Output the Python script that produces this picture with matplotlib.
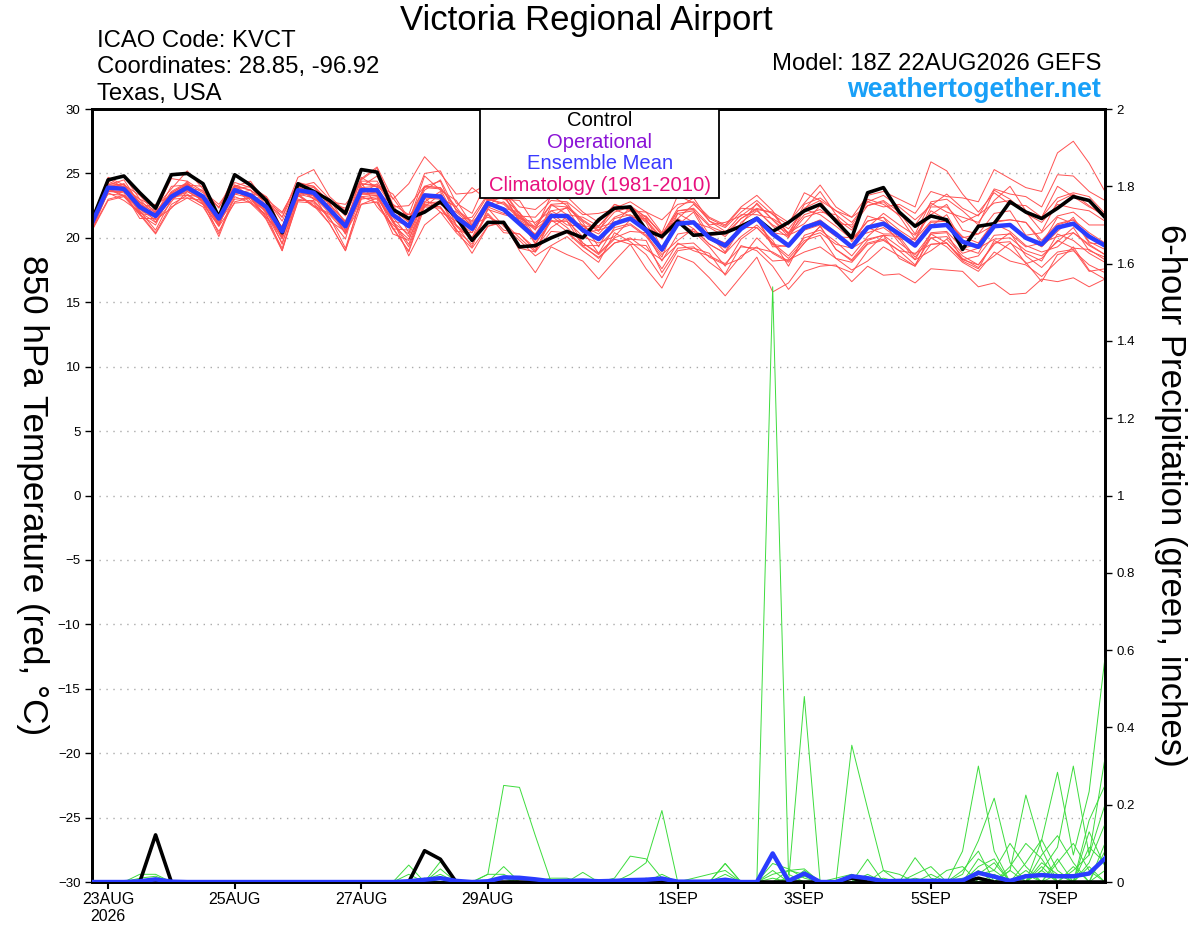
import numpy as np
import matplotlib
matplotlib.use("Agg")
import matplotlib.pyplot as plt
from matplotlib.patches import Rectangle

plt.rcParams['font.family'] = ['Liberation Sans', 'DejaVu Sans']

# 6-hourly steps from 18Z 22AUG2026 to 18Z 07SEP2026 (65 steps)
tick_steps = [1, 9, 17, 25, 37, 45, 53, 61]
tick_labels = ['23AUG\n2026', '25AUG', '27AUG', '29AUG', '1SEP', '3SEP', '5SEP', '7SEP']

# 850 hPa temperature (C)
control_t = [21.4, 24.5, 24.8, 23.5, 22.3, 24.9, 25.0, 24.2, 21.6, 24.9, 24.1, 22.9, 20.4,
             24.2, 23.6, 22.9, 21.9, 25.3, 25.1, 22.2, 21.5, 22.0, 22.8, 21.6, 19.8, 21.2,
             21.2, 19.3, 19.4, 20.0, 20.5, 20.0, 21.4, 22.3, 22.4, 20.6, 20.1, 21.3, 20.2,
             20.3, 20.4, 20.9, 21.5, 20.5, 21.2, 22.1, 22.6, 21.3, 20.0, 23.5, 23.9, 22.0,
             20.9, 21.7, 21.4, 19.1, 20.9, 21.1, 22.8, 22.0, 21.5, 22.3, 23.2, 22.9, 21.6]
mean_t = [21.2, 23.9, 23.8, 22.4, 21.7, 23.2, 23.9, 23.2, 21.5, 23.7, 23.3, 22.4, 20.5,
          23.7, 23.5, 22.2, 20.9, 23.7, 23.7, 21.8, 20.9, 23.3, 23.2, 21.6, 20.7, 22.7,
          22.2, 21.1, 20.0, 21.7, 21.7, 20.6, 19.9, 21.1, 21.5, 20.6, 19.1, 21.1, 21.2,
          20.0, 19.4, 20.7, 21.5, 20.3, 19.4, 20.8, 21.2, 20.3, 19.3, 20.8, 21.1, 20.3,
          19.4, 20.9, 21.0, 19.7, 19.3, 20.9, 21.0, 20.0, 19.5, 20.8, 21.1, 20.1, 19.4]

members_t = [
    [21.0, 24.2, 24.1, 23.3, 21.9, 23.6, 24.3, 22.6, 21.8, 24.0, 24.4, 22.7, 20.8, 24.1, 23.0, 22.6,
     21.3, 24.2, 24.0, 23.1, 21.4, 23.9, 23.8, 21.4, 21.6, 23.4, 23.0, 22.9, 21.0, 22.6, 21.8, 21.6,
     20.9, 22.2, 21.7, 21.7, 20.2, 22.3, 23.1, 21.3, 20.8, 22.0, 22.9, 21.8, 21.0, 23.5, 22.9, 22.1,
     21.2, 22.8, 22.4, 22.6, 21.9, 23.6, 23.2, 23.1, 22.8, 25.3, 24.6, 23.9, 23.6, 26.6, 27.5, 25.8,
     23.6],
    [21.3, 23.7, 23.6, 22.1, 20.6, 23.0, 23.6, 22.9, 20.3, 23.4, 23.1, 22.0, 20.1, 24.0, 23.2, 21.9,
     20.6, 23.2, 23.3, 21.4, 18.6, 21.0, 22.0, 21.3, 20.4, 22.5, 23.4, 21.2, 20.3, 22.1, 22.3, 20.4,
     20.6, 22.0, 22.4, 21.6, 20.3, 21.5, 22.6, 21.5, 20.9, 22.3, 22.2, 22.0, 21.2, 22.7, 24.1, 22.4,
     21.6, 23.3, 23.6, 23.0, 22.4, 25.9, 25.2, 23.4, 22.0, 23.5, 22.6, 22.5, 21.6, 24.0, 23.2, 22.4,
     21.8],
    [20.8, 23.5, 22.9, 22.0, 21.2, 22.8, 24.4, 22.7, 20.9, 22.7, 22.8, 21.8, 19.6, 23.0, 22.8, 21.5,
     19.9, 24.3, 22.4, 21.0, 19.9, 22.5, 22.4, 20.6, 19.5, 22.3, 20.9, 19.8, 18.6, 19.4, 20.1, 19.0,
     18.1, 20.4, 19.7, 18.7, 16.9, 19.0, 19.2, 18.8, 17.1, 18.6, 19.3, 18.2, 18.3, 18.9, 19.3, 18.4,
     17.5, 18.2, 19.3, 18.6, 17.8, 20.3, 19.6, 18.3, 17.9, 19.6, 19.7, 18.0, 18.4, 19.8, 19.2, 19.1,
     18.3],
    [21.5, 24.6, 23.9, 22.5, 21.8, 24.0, 24.1, 23.3, 21.6, 23.8, 23.4, 21.9, 20.9, 23.9, 23.6, 23.0,
     21.1, 23.6, 23.5, 22.6, 20.4, 22.8, 22.6, 22.0, 21.0, 21.6, 21.1, 19.2, 18.9, 20.5, 20.4, 19.3,
     18.5, 19.6, 19.9, 19.8, 17.3, 19.2, 19.3, 18.1, 17.2, 19.4, 19.0, 17.8, 16.0, 17.4, 17.8, 17.9,
     16.6, 17.8, 17.1, 17.2, 16.5, 17.6, 17.5, 17.4, 16.2, 16.5, 15.6, 15.7, 16.8, 16.6, 16.9, 16.2,
     16.8],
    [21.4, 24.1, 24.5, 22.6, 22.0, 23.5, 24.2, 22.8, 21.9, 24.0, 23.7, 22.8, 21.9, 24.3, 24.0, 22.7,
     22.3, 24.4, 24.4, 22.4, 22.5, 24.0, 23.9, 22.4, 23.9, 22.9, 23.1, 21.9, 19.8, 22.5, 22.4, 21.2,
     19.3, 21.5, 21.8, 20.8, 20.2, 21.3, 21.2, 20.1, 19.6, 20.8, 21.5, 19.5, 19.3, 20.6, 21.0, 20.1,
     20.0, 20.4, 20.8, 19.9, 18.3, 20.4, 20.5, 19.2, 18.8, 21.1, 20.5, 19.4, 18.9, 19.3, 20.4, 19.5,
     18.7],
    [21.5, 23.4, 23.3, 21.9, 20.4, 22.6, 23.3, 22.6, 20.9, 23.9, 22.7, 21.8, 19.0, 22.9, 22.9, 21.6,
     19.2, 23.0, 23.2, 21.2, 20.3, 24.0, 24.4, 21.5, 20.9, 23.0, 22.7, 21.6, 20.6, 23.3, 22.5, 21.4,
     20.6, 21.0, 22.4, 21.4, 20.0, 22.1, 22.3, 21.0, 21.2, 21.7, 22.6, 21.4, 20.4, 21.1, 22.5, 21.5,
     20.6, 23.0, 22.6, 21.8, 21.0, 22.7, 22.0, 21.6, 21.2, 22.9, 24.0, 22.1, 21.6, 23.1, 23.5, 23.2,
     21.9],
    [21.0, 23.6, 23.5, 21.5, 21.5, 23.0, 23.1, 22.9, 21.1, 23.4, 23.7, 22.0, 19.9, 23.3, 22.4, 21.8,
     20.4, 22.6, 23.1, 21.2, 19.3, 22.6, 22.4, 20.9, 19.9, 21.8, 20.4, 20.3, 19.2, 20.8, 21.6, 19.6,
     18.7, 19.9, 19.5, 19.4, 17.6, 19.6, 19.0, 18.6, 18.0, 19.3, 19.2, 18.9, 18.2, 19.6, 20.9, 19.1,
     18.3, 19.8, 20.2, 20.1, 18.5, 20.0, 20.1, 18.8, 19.2, 19.9, 20.0, 19.0, 18.6, 19.7, 20.8, 19.0,
     18.5],
    [21.6, 23.8, 24.2, 22.8, 22.1, 24.6, 24.4, 23.6, 22.6, 24.3, 23.9, 23.0, 21.3, 24.0, 24.3, 23.0,
     21.7, 24.5, 25.4, 22.6, 21.8, 25.0, 25.2, 22.7, 21.9, 24.6, 23.6, 22.4, 22.2, 23.2, 23.2, 22.0,
     21.2, 22.6, 22.1, 22.0, 20.4, 23.3, 22.7, 21.3, 20.5, 21.0, 22.7, 21.4, 20.1, 21.6, 22.0, 21.8,
     19.7, 21.3, 21.6, 20.6, 19.8, 22.1, 21.4, 20.1, 19.6, 21.3, 21.4, 21.2, 19.8, 21.1, 21.4, 20.4,
     19.6],
    [21.1, 23.8, 23.2, 22.3, 21.6, 23.1, 24.2, 23.0, 21.3, 23.6, 23.2, 21.6, 20.3, 23.5, 23.3, 22.7,
     20.6, 23.5, 23.4, 20.7, 20.6, 23.1, 23.0, 20.5, 20.4, 22.4, 21.9, 21.7, 19.6, 21.3, 21.3, 19.4,
     19.4, 20.6, 21.0, 20.1, 18.5, 21.5, 20.7, 19.5, 18.8, 20.1, 21.0, 19.8, 17.8, 20.2, 20.6, 19.7,
     18.6, 20.1, 21.2, 19.6, 18.7, 20.3, 20.4, 18.3, 18.6, 20.2, 20.3, 19.3, 19.6, 20.1, 20.4, 19.4,
     18.7],
    [21.3, 24.0, 23.9, 23.0, 21.7, 23.3, 24.0, 23.2, 21.0, 23.8, 23.4, 22.5, 20.0, 23.8, 23.6, 22.3,
     21.0, 24.7, 23.9, 22.0, 21.8, 22.4, 23.4, 21.8, 20.9, 22.9, 23.3, 21.3, 20.2, 21.9, 21.0, 20.9,
     20.3, 21.6, 22.1, 21.2, 18.9, 21.9, 22.1, 20.9, 20.4, 21.8, 21.8, 21.5, 20.7, 22.2, 23.6, 21.8,
     20.8, 22.5, 22.9, 22.0, 20.3, 22.8, 23.0, 22.1, 21.0, 23.7, 23.0, 21.9, 21.2, 22.6, 22.3, 22.1,
     21.3],
    [20.6, 22.9, 23.2, 21.8, 20.3, 22.4, 23.1, 22.4, 20.5, 22.8, 23.1, 21.4, 19.0, 23.3, 22.5, 21.1,
     19.0, 22.6, 22.8, 20.8, 18.9, 22.4, 22.3, 20.7, 18.8, 20.9, 21.2, 20.0, 18.9, 21.7, 20.8, 19.6,
     18.8, 20.0, 20.5, 20.4, 18.2, 20.3, 20.5, 19.3, 17.8, 19.9, 20.8, 19.6, 18.6, 20.0, 20.4, 19.5,
     19.2, 19.9, 20.2, 19.3, 18.3, 19.0, 19.9, 18.6, 17.9, 19.5, 20.4, 18.6, 17.7, 18.9, 19.1, 17.4,
     17.6],
    [21.7, 24.4, 24.8, 23.0, 22.4, 23.8, 25.2, 23.8, 22.3, 24.9, 24.0, 23.2, 21.6, 24.7, 25.3, 23.2,
     22.1, 24.6, 25.5, 23.0, 24.2, 26.3, 25.0, 23.4, 23.5, 24.2, 23.6, 21.7, 21.6, 22.9, 22.8, 21.8,
     21.9, 22.2, 22.5, 21.6, 20.3, 22.1, 22.2, 20.2, 20.3, 21.5, 22.2, 20.9, 20.0, 22.2, 21.8, 20.9,
     19.9, 21.3, 21.6, 19.9, 19.9, 21.3, 21.3, 20.0, 20.3, 21.0, 21.0, 20.0, 19.3, 20.5, 21.6, 19.7,
     19.1],
    [21.2, 23.9, 23.8, 21.9, 21.7, 23.1, 23.8, 23.7, 21.4, 23.6, 23.1, 21.6, 20.2, 23.4, 23.1, 22.5,
     20.3, 23.1, 23.0, 20.3, 19.8, 23.1, 22.0, 20.4, 19.2, 20.9, 21.3, 19.0, 17.3, 19.3, 18.7, 18.2,
     16.8, 18.2, 19.5, 17.6, 16.1, 18.6, 18.1, 16.9, 15.5, 17.0, 18.5, 15.8, 16.5, 18.2, 18.0, 17.8,
     17.3, 19.0, 20.2, 18.4, 17.8, 19.5, 19.6, 18.4, 17.7, 18.6, 19.6, 18.8, 18.2, 20.3, 19.8, 18.8,
     18.1],
    [21.5, 24.7, 24.1, 22.7, 21.2, 23.5, 24.2, 23.5, 22.4, 24.1, 23.7, 22.8, 21.6, 24.1, 23.9, 22.6,
     21.2, 23.4, 24.2, 22.3, 21.3, 23.7, 24.5, 22.1, 21.2, 22.4, 22.8, 21.7, 20.7, 21.6, 22.4, 21.3,
     20.5, 22.6, 22.2, 21.3, 19.9, 21.9, 21.2, 20.8, 20.1, 21.5, 22.3, 21.9, 20.3, 21.8, 22.2, 21.3,
     20.0, 20.8, 21.9, 21.0, 20.2, 21.8, 22.6, 20.6, 20.3, 21.9, 22.1, 20.2, 20.4, 21.7, 22.0, 21.0,
     21.0],
    [21.0, 23.7, 24.2, 22.2, 21.4, 22.3, 23.6, 22.9, 21.0, 24.0, 22.9, 22.1, 20.0, 23.4, 22.5, 21.9,
     21.3, 23.4, 23.5, 21.6, 20.1, 23.2, 23.1, 22.4, 20.8, 22.7, 22.2, 21.1, 20.9, 21.8, 21.7, 20.5,
     18.8, 20.8, 21.1, 20.2, 18.7, 19.8, 20.7, 19.5, 18.8, 20.8, 20.8, 19.5, 18.4, 19.8, 20.2, 18.4,
     18.1, 19.5, 19.8, 19.0, 17.9, 20.0, 19.3, 18.1, 17.4, 18.9, 18.2, 17.9, 17.0, 18.2, 19.3, 17.5,
     16.8],
    [20.9, 24.1, 24.0, 22.0, 22.0, 23.4, 24.1, 24.0, 21.8, 24.1, 23.2, 23.0, 22.0, 24.2, 24.0, 22.8,
     22.6, 24.2, 24.1, 23.4, 21.5, 24.0, 23.9, 22.2, 21.3, 23.3, 23.6, 21.9, 20.8, 22.6, 22.7, 20.9,
     20.9, 22.3, 22.8, 22.0, 21.4, 22.6, 22.8, 21.6, 21.0, 22.4, 23.3, 22.1, 20.2, 22.6, 23.1, 22.1,
     21.6, 22.5, 22.8, 21.7, 19.9, 22.4, 22.4, 21.2, 21.8, 22.7, 22.9, 22.0, 20.5, 22.8, 23.4, 22.5,
     21.6],
    [20.7, 23.0, 23.3, 21.8, 21.0, 23.5, 23.4, 22.6, 20.1, 23.2, 22.7, 21.5, 19.2, 22.8, 22.7, 21.1,
     19.0, 23.2, 22.7, 20.7, 19.0, 22.7, 22.8, 21.0, 19.3, 22.2, 21.8, 21.5, 19.5, 21.3, 21.3, 20.1,
     19.6, 20.1, 21.4, 20.5, 18.9, 21.0, 22.0, 19.9, 19.2, 20.6, 21.5, 19.3, 19.4, 20.9, 21.4, 20.4,
     19.3, 21.7, 21.3, 20.4, 19.6, 21.2, 21.3, 19.2, 19.5, 21.2, 21.4, 21.2, 19.6, 21.0, 21.4, 19.6,
     19.5],
    [21.2, 23.8, 23.3, 22.4, 22.6, 23.3, 24.0, 23.2, 21.6, 23.8, 23.4, 23.2, 20.7, 23.2, 23.7, 22.3,
     21.1, 24.0, 24.8, 22.2, 21.2, 24.8, 23.7, 22.9, 21.0, 23.0, 22.6, 21.5, 21.2, 22.1, 21.4, 21.0,
     19.9, 21.2, 21.6, 21.5, 19.2, 21.2, 21.3, 20.2, 18.9, 21.2, 22.1, 21.0, 20.4, 22.3, 22.9, 21.1,
     21.0, 22.8, 23.3, 22.4, 21.4, 22.5, 23.4, 22.3, 21.7, 23.8, 23.4, 23.2, 22.4, 24.9, 24.8, 23.6,
     22.9],
    [20.6, 23.6, 23.6, 22.8, 21.5, 23.0, 23.7, 23.0, 21.2, 23.0, 23.1, 22.2, 19.5, 23.5, 23.3, 21.3,
     20.5, 23.4, 23.3, 21.3, 19.5, 22.8, 23.6, 21.0, 20.0, 21.9, 20.6, 20.3, 19.0, 21.4, 20.5, 19.4,
     18.4, 19.6, 20.0, 19.1, 18.3, 19.5, 19.6, 18.5, 17.9, 18.4, 20.0, 18.8, 18.1, 19.6, 20.9, 19.1,
     18.2, 19.6, 19.9, 19.0, 18.8, 19.5, 19.6, 18.2, 17.6, 19.8, 19.1, 18.1, 16.6, 18.7, 19.0, 17.9,
     17.3],
    [21.3, 24.4, 23.9, 22.5, 21.7, 23.2, 23.3, 23.2, 21.6, 23.8, 24.0, 22.5, 20.6, 23.8, 23.0, 22.3,
     20.3, 23.9, 24.0, 21.3, 21.0, 23.4, 23.3, 21.7, 20.0, 22.8, 22.3, 22.0, 20.1, 21.8, 21.8, 20.7,
     20.8, 21.2, 21.6, 20.7, 19.2, 21.2, 20.5, 20.1, 19.5, 20.8, 21.6, 20.4, 20.2, 20.8, 21.2, 20.3,
     19.3, 20.8, 20.3, 20.3, 19.4, 20.9, 21.8, 19.7, 19.3, 20.9, 21.0, 20.0, 19.5, 21.6, 21.1, 20.1,
     19.4],
]

# 6-hour precipitation (inches)
control_p = [0, 0, 0, 0, 0.122, 0, 0, 0, 0, 0, 0, 0, 0,
             0, 0, 0, 0, 0, 0, 0, 0, 0.081, 0.059, 0, 0, 0,
             0, 0, 0, 0, 0, 0, 0, 0, 0, 0, 0, 0, 0,
             0, 0, 0, 0, 0, 0, 0, 0, 0, 0.01, 0, 0, 0,
             0, 0, 0, 0, 0.01, 0, 0, 0, 0, 0, 0, 0, 0]
mean_p = [0, 0, 0, 0.002, 0.007, 0.001, 0, 0, 0, 0, 0, 0, 0,
          0, 0, 0, 0, 0, 0, 0, 0.002, 0.006, 0.01, 0.003, 0, 0.002,
          0.012, 0.011, 0.007, 0.002, 0.003, 0.004, 0.002, 0.003, 0.005, 0.006, 0.009, 0.001, 0.001,
          0.001, 0.006, 0, 0, 0.074, 0.003, 0.022, 0, 0, 0.015, 0.01, 0.002, 0.003,
          0.003, 0.003, 0.003, 0.004, 0.024, 0.014, 0.003, 0.015, 0.018, 0.015, 0.015, 0.022, 0.061]

members_p = [
    [0, 0, 0, 0.02, 0.02, 0, 0, 0, 0, 0, 0, 0, 0,
     0, 0, 0, 0, 0, 0, 0, 0, 0, 0, 0, 0, 0,
     0, 0, 0, 0, 0, 0, 0, 0, 0, 0, 0, 0, 0,
     0, 0, 0, 0, 1.54, 0.02, 0, 0, 0, 0, 0, 0, 0,
     0, 0, 0, 0.02, 0.107, 0.217, 0.05, 0, 0, 0, 0, 0, 0],
    [0, 0, 0, 0, 0, 0, 0, 0, 0, 0, 0, 0, 0,
     0, 0, 0, 0, 0, 0, 0, 0.044, 0, 0, 0, 0, 0,
     0, 0, 0, 0, 0, 0, 0, 0, 0, 0, 0, 0, 0,
     0, 0, 0, 0, 0, 0, 0.48, 0, 0, 0, 0, 0, 0,
     0, 0, 0, 0, 0, 0, 0, 0, 0.03, 0.09, 0.30, 0.07, 0.32],
    [0, 0, 0, 0, 0, 0, 0, 0, 0, 0, 0, 0, 0,
     0, 0, 0, 0, 0, 0, 0, 0, 0, 0, 0, 0, 0.02,
     0.25, 0.245, 0.12, 0, 0, 0, 0, 0, 0, 0, 0, 0, 0,
     0, 0, 0, 0, 0, 0, 0, 0, 0, 0.354, 0.19, 0.03, 0,
     0, 0, 0, 0, 0, 0, 0.03, 0.225, 0.085, 0, 0, 0, 0],
    [0, 0, 0, 0, 0, 0, 0, 0, 0, 0, 0, 0, 0,
     0, 0, 0, 0, 0, 0, 0, 0, 0, 0.053, 0, 0, 0,
     0, 0, 0, 0, 0, 0, 0, 0.01, 0.067, 0.06, 0.01, 0, 0,
     0, 0.048, 0, 0, 0, 0, 0, 0, 0, 0, 0, 0, 0,
     0, 0, 0, 0.08, 0.30, 0.08, 0, 0, 0, 0, 0, 0.13, 0.04],
    [0, 0, 0, 0, 0, 0, 0, 0, 0, 0, 0, 0, 0,
     0, 0, 0, 0, 0, 0, 0, 0, 0, 0.034, 0, 0, 0,
     0, 0, 0, 0, 0, 0, 0, 0, 0.02, 0.05, 0.185, 0, 0,
     0, 0, 0, 0, 0.048, 0.034, 0.01, 0, 0, 0, 0, 0, 0,
     0, 0, 0, 0, 0, 0, 0, 0, 0.109, 0.284, 0.07, 0.234, 0.58],
    [0, 0, 0, 0, 0, 0, 0, 0, 0, 0, 0, 0, 0,
     0, 0, 0, 0, 0, 0, 0, 0, 0, 0, 0, 0, 0,
     0.04, 0, 0, 0, 0, 0.025, 0, 0, 0, 0, 0, 0, 0,
     0, 0.048, 0, 0, 0, 0, 0, 0, 0, 0, 0.059, 0, 0,
     0.063, 0.01, 0, 0, 0, 0, 0, 0, 0.05, 0.02, 0, 0.16, 0.25],
    [0, 0, 0, 0.01, 0.015, 0, 0, 0, 0, 0, 0, 0, 0,
     0, 0, 0, 0, 0, 0, 0, 0, 0.005, 0.02, 0, 0, 0,
     0, 0, 0, 0.01, 0.01, 0, 0, 0, 0, 0, 0, 0, 0,
     0, 0, 0, 0, 0, 0.03, 0.034, 0, 0, 0, 0, 0, 0,
     0, 0, 0, 0, 0.04, 0.06, 0, 0.05, 0.11, 0.03, 0, 0, 0.08],
    [0, 0, 0, 0, 0, 0, 0, 0, 0, 0, 0, 0, 0,
     0, 0, 0, 0, 0, 0, 0, 0.02, 0, 0, 0, 0, 0,
     0, 0, 0, 0, 0, 0, 0, 0, 0, 0, 0, 0, 0.01,
     0.02, 0.03, 0, 0, 0, 0, 0, 0, 0.01, 0.02, 0, 0, 0,
     0.02, 0.04, 0, 0, 0.06, 0.03, 0.1, 0.04, 0, 0, 0, 0.05, 0.15],
    [0, 0, 0, 0, 0, 0, 0, 0, 0, 0, 0, 0, 0,
     0, 0, 0, 0, 0, 0, 0, 0, 0, 0, 0, 0, 0.02,
     0.02, 0, 0, 0, 0, 0, 0, 0, 0, 0, 0, 0, 0,
     0, 0, 0, 0, 0.02, 0.03, 0.02, 0, 0, 0, 0, 0.03, 0.02,
     0, 0, 0, 0.03, 0.08, 0, 0, 0, 0.07, 0.12, 0.05, 0, 0],
    [0, 0, 0, 0, 0, 0, 0, 0, 0, 0, 0, 0, 0,
     0, 0, 0, 0, 0, 0, 0, 0, 0, 0, 0, 0, 0,
     0, 0, 0, 0, 0, 0, 0, 0, 0, 0, 0.02, 0, 0,
     0, 0, 0, 0, 0, 0, 0.03, 0, 0, 0, 0.02, 0, 0,
     0, 0, 0.03, 0.04, 0, 0, 0.04, 0.1, 0.06, 0, 0.03, 0.07, 0.2],
    [0, 0, 0, 0, 0, 0, 0, 0, 0, 0, 0, 0, 0,
     0, 0, 0, 0, 0, 0, 0, 0, 0, 0.01, 0, 0, 0,
     0, 0.01, 0, 0, 0, 0, 0, 0, 0, 0, 0, 0, 0,
     0, 0, 0, 0, 0, 0, 0.02, 0, 0, 0, 0, 0, 0,
     0, 0, 0, 0, 0.02, 0.03, 0, 0, 0, 0.05, 0.1, 0.03, 0],
    [0, 0, 0, 0, 0, 0, 0, 0, 0, 0, 0, 0, 0,
     0, 0, 0, 0, 0, 0, 0, 0, 0, 0, 0, 0, 0,
     0.01, 0, 0, 0, 0, 0, 0, 0, 0, 0, 0, 0, 0,
     0, 0.02, 0, 0, 0, 0, 0, 0, 0, 0.02, 0, 0, 0,
     0, 0.02, 0, 0, 0, 0, 0.03, 0, 0.04, 0, 0, 0.09, 0.05],
    [0, 0, 0, 0, 0.01, 0, 0, 0, 0, 0, 0, 0, 0,
     0, 0, 0, 0, 0, 0, 0, 0, 0, 0, 0, 0, 0,
     0, 0, 0, 0, 0, 0, 0, 0, 0, 0, 0, 0, 0,
     0, 0, 0, 0, 0.01, 0, 0.015, 0, 0, 0, 0, 0, 0,
     0.01, 0, 0, 0, 0.03, 0, 0, 0.02, 0, 0.06, 0, 0, 0.03],
    [0, 0, 0, 0, 0, 0, 0, 0, 0, 0, 0, 0, 0,
     0, 0, 0, 0, 0, 0, 0, 0, 0.01, 0, 0, 0, 0,
     0, 0, 0, 0, 0, 0, 0, 0, 0, 0.01, 0, 0, 0,
     0, 0, 0, 0, 0, 0.01, 0, 0, 0, 0, 0, 0, 0,
     0, 0, 0, 0, 0.02, 0.05, 0, 0, 0.03, 0, 0.04, 0, 0.1],
    [0, 0, 0, 0, 0, 0, 0, 0, 0, 0, 0, 0, 0,
     0, 0, 0, 0, 0, 0, 0, 0, 0, 0, 0, 0, 0,
     0, 0, 0, 0, 0, 0, 0, 0, 0, 0, 0, 0, 0,
     0, 0, 0, 0, 0.03, 0, 0, 0, 0, 0.01, 0, 0, 0,
     0, 0, 0, 0.01, 0, 0, 0, 0.03, 0, 0, 0, 0.04, 0],
    [0, 0, 0, 0, 0, 0, 0, 0, 0, 0, 0, 0, 0,
     0, 0, 0, 0, 0, 0, 0, 0, 0, 0, 0, 0, 0,
     0, 0, 0, 0, 0, 0, 0, 0, 0, 0, 0, 0, 0,
     0, 0, 0, 0, 0, 0, 0, 0, 0, 0, 0, 0.01, 0,
     0, 0, 0, 0, 0, 0.02, 0, 0, 0, 0.02, 0, 0, 0],
]

n = len(mean_t)
x = np.arange(n)

fig, ax = plt.subplots(figsize=(12, 9.27), dpi=100)
fig.subplots_adjust(left=0.0769, right=0.9208, bottom=0.0485, top=0.8824)

ax2 = ax.twinx()

# temperature
for m in members_t:
    ax.plot(x, m, color='#ff5252', lw=0.7, zorder=2)
ax.plot(x, control_t, color='black', lw=2.6, zorder=4)
ax.plot(x, mean_t, color='#2a3cff', lw=3.2, zorder=5)

ax.set_xlim(0, n - 1)
ax.set_ylim(-30, 30)
ax.set_yticks(np.arange(-30, 31, 5))
ax.yaxis.grid(True, linestyle=(0, (1, 4)), color='#aaaaaa', lw=1)
ax.set_axisbelow(True)
ax.set_xticks(tick_steps)
ax.set_xticklabels(tick_labels, fontsize=11.5)
ax.tick_params(axis='y', labelsize=9.5, length=5, width=1, direction='out')
ax.tick_params(axis='x', length=5, width=1.5, direction='out', pad=2)

# precipitation
for m in members_p:
    ax2.plot(x, m, color='#3ddc3d', lw=0.7, zorder=2)
ax2.plot(x, control_p, color='black', lw=2.6, zorder=4)
ax2.plot(x, mean_p, color='#2a3cff', lw=3.2, zorder=5)
ax2.set_ylim(0, 2)
ax2.set_yticks(np.arange(0, 2.01, 0.2))
ax2.set_yticklabels([f'{v:g}' for v in np.round(np.arange(0, 2.01, 0.2), 1)])
ax2.tick_params(axis='y', labelsize=9.5, length=5, width=1, direction='out')

for a in (ax, ax2):
    for s in a.spines.values():
        s.set_linewidth(2)

# legend box
ax2.add_patch(Rectangle((0.383, 0.885), 0.236, 0.115, transform=ax2.transAxes,
                        facecolor='white', edgecolor='black', lw=1.3, zorder=10))
leg = [('Control', 'black'), ('Operational', '#8a12d6'),
       ('Ensemble Mean', '#3a3aff'), ('Climatology (1981-2010)', '#e8107e')]
for k, (txt, col) in enumerate(leg):
    ax2.text(0.501, 0.9845 - k * 0.0277, txt, color=col, fontsize=14.6,
             ha='center', va='center', transform=ax2.transAxes, zorder=11)

# axis labels
fig.text(32 / 1200, 0.466, '850 hPa Temperature (red, °C)', rotation=270,
         ha='center', va='center', fontsize=25.3)
fig.text(1170 / 1200, 0.466, '6-hour Precipitation (green, inches)', rotation=270,
         ha='center', va='center', fontsize=25)

# header
fig.text(586 / 1200, 1 - 30 / 927, 'Victoria Regional Airport', ha='center',
         va='baseline', fontsize=25)
fig.text(97 / 1200, 1 - 46.7 / 927, 'ICAO Code: KVCT', fontsize=17.2, va='baseline')
fig.text(97 / 1200, 1 - 73.3 / 927, 'Coordinates: 28.85, -96.92', fontsize=17.2, va='baseline')
fig.text(97 / 1200, 1 - 100 / 927, 'Texas, USA', fontsize=17.2, va='baseline')
fig.text(1101 / 1200, 1 - 70 / 927, 'Model: 18Z 22AUG2026 GEFS', fontsize=17.2,
         ha='right', va='baseline')
fig.text(1101 / 1200, 1 - 97 / 927, 'weathertogether.net', fontsize=19.3,
         fontweight='bold', color='#18a0f8', ha='right', va='baseline')

plt.savefig('out.png', dpi=100)
plt.close()
